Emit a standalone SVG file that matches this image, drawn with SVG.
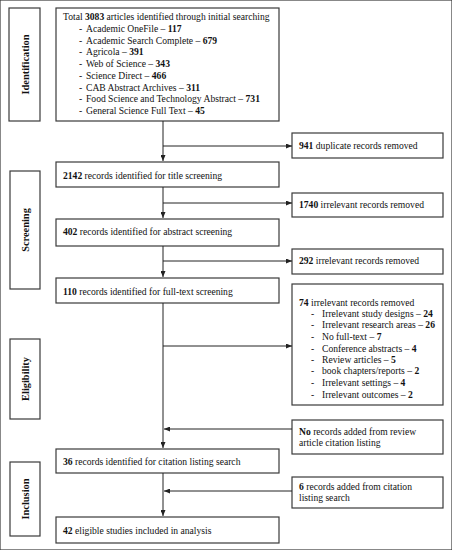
<svg xmlns="http://www.w3.org/2000/svg" width="452" height="550" viewBox="0 0 452 550">
<defs>
<marker id="arr" markerUnits="userSpaceOnUse" markerWidth="6" markerHeight="5" refX="6" refY="2.5" orient="auto">
<path d="M0,0 L6,2.5 L0,5 z" fill="#222"/>
</marker>
<style>
rect{fill:#fff;stroke:#3a3a3a;stroke-width:1.2}
text{font-family:"Liberation Serif","Times New Roman",serif;font-size:9.6px;fill:#111}
.side{font-weight:bold;text-anchor:middle;font-size:10.4px}
.b{font-weight:bold}
.c line{stroke:#222;stroke-width:1}
</style>
</defs>
<rect width="452" height="550" fill="#fff" stroke="none"/>

<g id="side-identification"><rect x="9" y="8" width="31" height="113"/><text class="side" transform="translate(28.5,64.5) rotate(-90)">Identification</text></g>
<g id="side-screening"><rect x="10" y="171" width="30" height="118"/><text class="side" transform="translate(28.5,230) rotate(-90)">Screening</text></g>
<g id="side-eligibility"><rect x="10" y="339" width="30" height="80"/><text class="side" transform="translate(28.5,379) rotate(-90)">Eligibility</text></g>
<g id="side-inclusion"><rect x="10" y="462" width="30" height="74"/><text class="side" transform="translate(28.5,499) rotate(-90)">Inclusion</text></g>

<g id="n-total"><rect x="56" y="8" width="223" height="113"/>
<text x="63" y="20">Total <tspan class="b">3083</tspan> articles identified through initial searching</text>
<text x="79" y="32">-</text><text x="86" y="32">Academic OneFile – <tspan class="b">117</tspan></text>
<text x="79" y="44">-</text><text x="86" y="44">Academic Search Complete – <tspan class="b">679</tspan></text>
<text x="79" y="55">-</text><text x="86" y="55">Agricola – <tspan class="b">391</tspan></text>
<text x="79" y="67">-</text><text x="86" y="67">Web of Science – <tspan class="b">343</tspan></text>
<text x="79" y="79">-</text><text x="86" y="79">Science Direct – <tspan class="b">466</tspan></text>
<text x="79" y="91">-</text><text x="86" y="91">CAB Abstract Archives – <tspan class="b">311</tspan></text>
<text x="79" y="102">-</text><text x="86" y="102">Food Science and Technology Abstract – <tspan class="b">731</tspan></text>
<text x="79" y="114">-</text><text x="86" y="114">General Science Full Text – <tspan class="b">45</tspan></text>
</g>
<g id="n-941"><rect x="292" y="133" width="151" height="25"/><text x="299" y="149"><tspan class="b">941</tspan> duplicate records removed</text></g>
<g id="n-2142"><rect x="56" y="162" width="223" height="25"/><text x="63" y="179"><tspan class="b">2142</tspan> records identified for title screening</text></g>
<g id="n-1740"><rect x="292" y="193" width="151" height="24"/><text x="299" y="208"><tspan class="b">1740</tspan> irrelevant records removed</text></g>
<g id="n-402"><rect x="56" y="219" width="223" height="27"/><text x="63" y="235"><tspan class="b">402</tspan> records identified for abstract screening</text></g>
<g id="n-292"><rect x="292" y="249" width="151" height="25"/><text x="299" y="264"><tspan class="b">292</tspan> irrelevant records removed</text></g>
<g id="n-110"><rect x="56" y="278" width="223" height="25"/><text x="63" y="295"><tspan class="b">110</tspan> records identified for full-text screening</text></g>
<g id="n-74"><rect x="292" y="284" width="151" height="121"/>
<text x="299" y="306"><tspan class="b">74</tspan> irrelevant records removed</text>
<text x="311" y="317">-</text><text x="322" y="317">Irrelevant study designs – <tspan class="b">24</tspan></text>
<text x="311" y="328">-</text><text x="322" y="328">Irrelevant research areas – <tspan class="b">26</tspan></text>
<text x="311" y="340">-</text><text x="322" y="340">No full-text – <tspan class="b">7</tspan></text>
<text x="311" y="352">-</text><text x="322" y="352">Conference abstracts – <tspan class="b">4</tspan></text>
<text x="311" y="363">-</text><text x="322" y="363">Review articles – <tspan class="b">5</tspan></text>
<text x="311" y="374">-</text><text x="322" y="374">book chapters/reports – <tspan class="b">2</tspan></text>
<text x="311" y="386">-</text><text x="322" y="386">Irrelevant settings – <tspan class="b">4</tspan></text>
<text x="311" y="398">-</text><text x="322" y="398">Irrelevant outcomes – <tspan class="b">2</tspan></text>
</g>
<g id="n-no"><rect x="292" y="420" width="151" height="34"/><text x="299" y="435"><tspan class="b">No</tspan> records added from review</text><text x="299" y="446">article citation listing</text></g>
<g id="n-36"><rect x="56" y="449" width="223" height="24"/><text x="63" y="465"><tspan class="b">36</tspan> records identified for citation listing search</text></g>
<g id="n-6"><rect x="292" y="477" width="151" height="31"/><text x="299" y="490"><tspan class="b">6</tspan> records added from citation</text><text x="299" y="501">listing search</text></g>
<g id="n-42"><rect x="56" y="517" width="223" height="26"/><text x="63" y="534"><tspan class="b">42</tspan> eligible studies included in analysis</text></g>

<g id="connectors" class="c">
<line x1="163" y1="121" x2="163" y2="161" marker-end="url(#arr)"/>
<line x1="163" y1="146" x2="292" y2="146" marker-end="url(#arr)"/>
<line x1="163" y1="187" x2="163" y2="218" marker-end="url(#arr)"/>
<line x1="163" y1="203" x2="292" y2="203" marker-end="url(#arr)"/>
<line x1="163" y1="246" x2="163" y2="277" marker-end="url(#arr)"/>
<line x1="163" y1="261" x2="292" y2="261" marker-end="url(#arr)"/>
<line x1="163" y1="303" x2="163" y2="448" marker-end="url(#arr)"/>
<line x1="163" y1="346" x2="292" y2="346" marker-end="url(#arr)"/>
<line x1="292" y1="429" x2="164" y2="429" marker-end="url(#arr)"/>
<line x1="163" y1="473" x2="163" y2="516" marker-end="url(#arr)"/>
<line x1="292" y1="491" x2="164" y2="491" marker-end="url(#arr)"/>
</g>
</svg>
